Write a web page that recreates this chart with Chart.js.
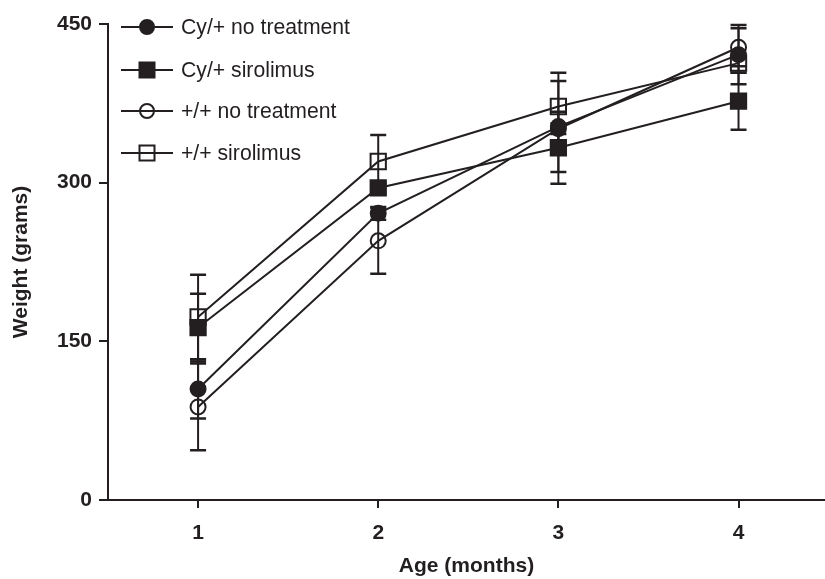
<!DOCTYPE html>
<html>
<head>
<meta charset="utf-8">
<script src="https://cdn.jsdelivr.net/npm/chart.js@4/dist/chart.umd.min.js"></script>
<style>
  html, body { margin: 0; padding: 0; background: #fff; }
  #wrap { width: 825px; height: 579px; }
</style>
</head>
<body>
<div id="wrap"><canvas id="c" width="825" height="579"></canvas></div>
<script>
// ---- data ----
const ages = [1, 2, 3, 4];
const yTicks = [0, 150, 300, 450];
const seriesNames = ['Cy/+ no treatment', 'Cy/+ sirolimus', '+/+ no treatment', '+/+ sirolimus'];
const cyNoTreatMean = [105, 271, 353, 421];
const cyNoTreatSD   = [28, 6, 43, 28];
const cySiroMean    = [163, 295, 333, 377];
const cySiroSD      = [32, 5, 34, 27];
const wtNoTreatMean = [88, 245, 351, 428];
const wtNoTreatSD   = [41, 31, 5, 18];
const wtSiroMean    = [173, 320, 372, 413];
const wtSiroSD      = [40, 25, 32, 9];

const INK = '#231f20';
const FONT = "'Liberation Sans', Arial, sans-serif";

const means = [cyNoTreatMean, cySiroMean, wtNoTreatMean, wtSiroMean];
const sds = [cyNoTreatSD, cySiroSD, wtNoTreatSD, wtSiroSD];
const styles = [
  { pointStyle: 'circle', radius: 7.5, fill: INK },
  { pointStyle: 'rect', radius: 10.8, fill: INK },
  { pointStyle: 'circle', radius: 7.5, fill: 'rgba(0,0,0,0)' },
  { pointStyle: 'rect', radius: 10.8, fill: 'rgba(0,0,0,0)' }
];

const datasets = means.map((m, i) => ({
  label: seriesNames[i],
  data: ages.map((a, j) => ({ x: a, y: m[j] })),
  sd: sds[i],
  borderColor: INK,
  borderWidth: 2,
  backgroundColor: styles[i].fill,
  pointStyle: styles[i].pointStyle,
  pointRadius: styles[i].radius,
  pointHoverRadius: styles[i].radius,
  pointBackgroundColor: styles[i].fill,
  pointBorderColor: INK,
  pointBorderWidth: 2,
  tension: 0,
  fill: false
}));

const errorBars = {
  id: 'errorBars',
  beforeDatasetsDraw(chart) {
    const ctx = chart.ctx;
    const xs = chart.scales.x, ys = chart.scales.y;
    ctx.save();
    ctx.strokeStyle = INK;
    chart.data.datasets.forEach(ds => {
      ds.data.forEach((p, j) => {
        const sd = ds.sd[j];
        const px = xs.getPixelForValue(p.x);
        const top = ys.getPixelForValue(p.y + sd);
        const bot = ys.getPixelForValue(p.y - sd);
        ctx.lineWidth = 2;
        ctx.beginPath();
        ctx.moveTo(px, top); ctx.lineTo(px, bot);
        ctx.stroke();
        ctx.lineWidth = 2.5;
        ctx.beginPath();
        ctx.moveTo(px - 8, top); ctx.lineTo(px + 8, top);
        ctx.moveTo(px - 8, bot); ctx.lineTo(px + 8, bot);
        ctx.stroke();
      });
    });
    ctx.restore();
  }
};

const customLegend = {
  id: 'customLegend',
  afterDraw(chart) {
    const ctx = chart.ctx;
    const rows = [27, 70, 111, 153];
    ctx.save();
    chart.data.datasets.forEach((ds, i) => {
      const y = rows[i];
      ctx.strokeStyle = INK;
      ctx.lineWidth = 2;
      ctx.beginPath();
      ctx.moveTo(121, y); ctx.lineTo(173, y);
      ctx.stroke();
      const st = styles[i];
      ctx.lineWidth = 2;
      ctx.fillStyle = st.fill;
      if (st.pointStyle === 'circle') {
        ctx.beginPath();
        ctx.arc(147, y, 7, 0, Math.PI * 2);
        ctx.fill(); ctx.stroke();
      } else {
        ctx.beginPath();
        ctx.rect(147 - 7.5, y - 7.5, 15, 15);
        ctx.fill(); ctx.stroke();
      }
      ctx.fillStyle = INK;
      ctx.font = "21.2px " + FONT;
      ctx.textBaseline = 'middle';
      ctx.textAlign = 'left';
      ctx.fillText(ds.label, 181, y + 1);
    });
    ctx.restore();
  }
};

new Chart(document.getElementById('c'), {
  type: 'line',
  data: { datasets },
  plugins: [errorBars, customLegend],
  options: {
    responsive: false,
    animation: false,
    events: [],
    layout: { autoPadding: false, padding: { top: 24, right: 0, left: 0, bottom: 0 } },
    plugins: { legend: { display: false }, tooltip: { enabled: false } },
    scales: {
      x: {
        type: 'linear',
        min: 0.5,
        max: 4.48,
        afterBuildTicks(scale) { scale.ticks = ages.map(v => ({ value: v })); },
        afterFit(scale) { scale.height = 79; scale.paddingRight = 0; scale.paddingLeft = 0; },
        grid: { display: true, drawOnChartArea: false, drawTicks: true, tickLength: 8, color: INK, lineWidth: 2 },
        border: { display: true, color: INK, width: 2 },
        ticks: { color: INK, font: { family: FONT, size: 21, weight: 'bold' }, padding: 13, callback: v => String(v) },
        title: { display: true, text: 'Age (months)', color: INK, font: { family: FONT, size: 21, weight: 'bold' }, padding: { top: 0, bottom: 0 } }
      },
      y: {
        type: 'linear',
        min: 0,
        max: 450,
        afterBuildTicks(scale) { scale.ticks = yTicks.map(v => ({ value: v })); },
        afterFit(scale) { scale.width = 108; },
        grid: { display: true, drawOnChartArea: false, drawTicks: true, tickLength: 9, color: INK, lineWidth: 2 },
        border: { display: true, color: INK, width: 2 },
        ticks: { color: INK, font: { family: FONT, size: 21, weight: 'bold' }, padding: 7, callback: v => String(v) },
        title: { display: true, text: 'Weight (grams)', color: INK, font: { family: FONT, size: 21, weight: 'bold' }, padding: { top: 9, bottom: 0 } }
      }
    }
  }
});
</script>
</body>
</html>
